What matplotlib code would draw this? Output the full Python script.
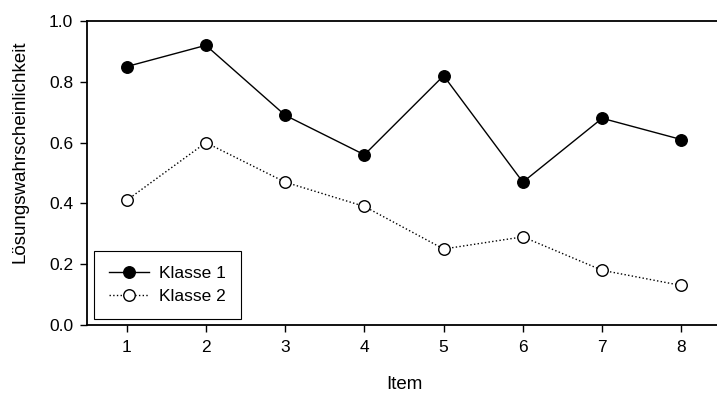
import matplotlib
matplotlib.use("Agg")
import matplotlib.pyplot as plt

items = [1, 2, 3, 4, 5, 6, 7, 8]
klasse1 = [0.85, 0.92, 0.69, 0.56, 0.82, 0.47, 0.68, 0.61]
klasse2 = [0.41, 0.60, 0.47, 0.39, 0.25, 0.29, 0.18, 0.13]
yticks = [0.0, 0.2, 0.4, 0.6, 0.8, 1.0]

plt.rcParams['font.family'] = ['Liberation Sans', 'DejaVu Sans']

fig = plt.figure(figsize=(7.17, 3.97), dpi=100)
ax = fig.add_axes([87/717, 72/397, 634/717, 304/397])

ax.plot(items, klasse1, color='black', lw=1.0, marker='o', ms=8.3,
        mfc='black', mec='black', mew=1.0, label='Klasse 1', zorder=3)
ax.plot(items, klasse2, color='black', lw=1.0, ls=':', marker='o', ms=8.3,
        mfc='white', mec='black', mew=1.0, label='Klasse 2', zorder=3)

ax.set_xlim(0.5, 8.5)
ax.set_ylim(0, 1.0)
ax.set_xticks(items)
ax.set_yticks(yticks)
ax.set_yticklabels([f"{v:.1f}" for v in yticks])
ax.tick_params(axis='both', direction='out', length=5, width=1, labelsize=12.5, colors='black')
ax.tick_params(axis='x', pad=6)
ax.tick_params(axis='y', pad=5)
ax.spines['right'].set_visible(False)
for s in ['left', 'top', 'bottom']:
    ax.spines[s].set_linewidth(1.3)

ax.set_xlabel('Item', fontsize=13.5, labelpad=15)
ax.set_ylabel('Lösungswahrscheinlichkeit', fontsize=13.5)
ax.yaxis.set_label_coords(-0.093, 0.569)

leg = ax.legend(loc='lower left', bbox_to_anchor=(7/634, 6/304), borderaxespad=0,
                fontsize=12.5, frameon=True, fancybox=False, edgecolor='black',
                framealpha=1, handlelength=2.3, handletextpad=0.6,
                borderpad=0.85, labelspacing=0.45)
leg.get_frame().set_linewidth(0.8)

fig.savefig('out.png', dpi=100)
